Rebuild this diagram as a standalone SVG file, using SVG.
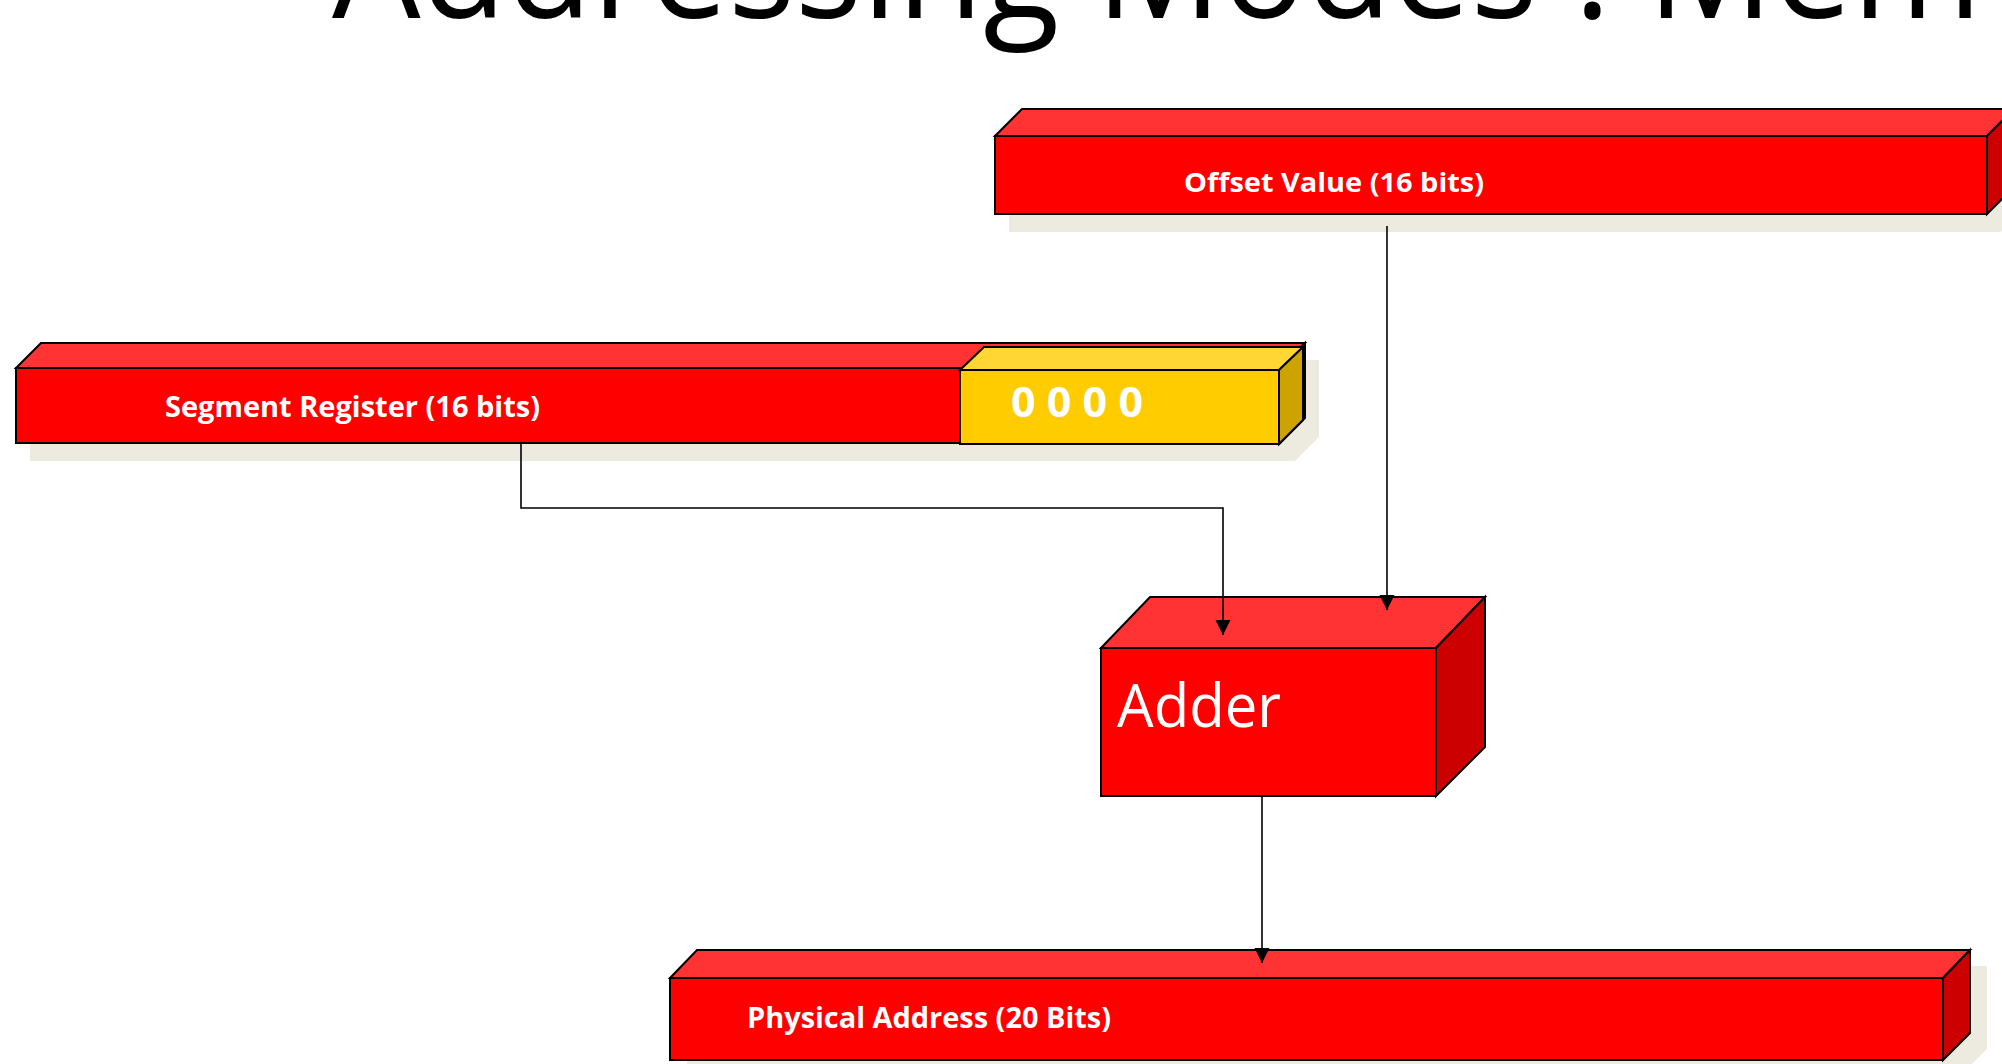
<svg xmlns="http://www.w3.org/2000/svg" width="2002" height="1064" viewBox="0 0 2002 1064">
<style>
.ln{stroke:#000;stroke-width:2;stroke-linejoin:miter}
.front{fill:#FF0000}
.top{fill:#FF3333}
.side{fill:#CC0000}
.yfront{fill:#FFCC00}
.ytop{fill:#FFD633}
.yside{fill:#CCA300}
.shadow{fill:#EDEBE0;stroke:none}
.lbl{font-family:"Open Sans","Liberation Sans",sans-serif;font-weight:bold;fill:#fff}
.conn{stroke:#000;stroke-width:1.6;fill:none}
</style>
<defs>
<marker id="arr" markerUnits="userSpaceOnUse" markerWidth="16" markerHeight="16" refX="15" refY="7.5" orient="auto">
<path d="M0,0 L15,7.5 L0,15 z" fill="#000"/>
</marker>
</defs>
<rect width="2002" height="1064" fill="#fff"/>
<text id="title" x="332" y="18" font-family="'Open Sans','Liberation Sans',sans-serif" font-size="145" fill="#000" textLength="1650" lengthAdjust="spacingAndGlyphs">Addressing Modes : Mem</text>

<g id="offset">
<polygon class="shadow" points="1009,154 1036,127 2028,127 2028,205 2001,232 1009,232"/>
<polygon class="top ln" points="995,136 1022,109 2014,109 1987,136"/>
<polygon class="side ln" points="1987,136 2014,109 2014,187 1987,214"/>
<rect class="front ln" x="995" y="136" width="992" height="78"/>
<text class="lbl" x="1184" y="192" font-size="27" textLength="300" lengthAdjust="spacingAndGlyphs">Offset Value (16 bits)</text>
</g>

<g id="segment">
<polygon class="shadow" points="30,385 55,360 1319,360 1319,437 1295,461 30,461"/>
<polygon class="top ln" points="16,368 41,343 1305,343 1280,368"/>
<polygon class="side ln" points="1280,368 1305,343 1305,418 1280,443"/>
<rect class="front ln" x="16" y="368" width="1264" height="75"/>
<text class="lbl" x="165" y="417" font-size="28" textLength="375" lengthAdjust="spacingAndGlyphs">Segment Register (16 bits)</text>
</g>

<g id="zeros">
<polygon class="ytop ln" points="960,370 984,347 1303,347 1279,370"/>
<polygon class="yside ln" points="1279,370 1303,347 1303,420 1279,444"/>
<rect class="yfront ln" x="960" y="370" width="319" height="74"/>
<text class="lbl" x="1011" y="417" font-size="41" textLength="132" lengthAdjust="spacingAndGlyphs">0 0 0 0</text>
</g>

<g id="adder">
<polygon class="top ln" points="1101,648 1150,597 1485,597 1436,648"/>
<polygon class="side ln" points="1436,648 1485,597 1485,747 1436,796"/>
<rect class="front ln" x="1101" y="648" width="335" height="148"/>
<text x="1117" y="727" font-family="'Open Sans','Liberation Sans',sans-serif" font-size="60" fill="#fff" textLength="164" lengthAdjust="spacingAndGlyphs">Adder</text>
</g>

<g id="physical">
<polygon class="shadow" points="687,994 714,966 1987,966 1987,1049 1960,1076 687,1076"/>
<polygon class="top ln" points="670,978 697,950 1970,950 1943,978"/>
<polygon class="side ln" points="1943,978 1970,950 1970,1033 1943,1060"/>
<rect class="front ln" x="670" y="978" width="1273" height="82"/>
<text class="lbl" x="747" y="1028" font-size="28" textLength="364" lengthAdjust="spacingAndGlyphs">Physical Address (20 Bits)</text>
</g>

<g id="connectors">
<path class="conn" d="M1387,226 V610" marker-end="url(#arr)"/>
<path class="conn" d="M521,443 V508 H1223 V635" marker-end="url(#arr)"/>
<path class="conn" d="M1262,796 V963" marker-end="url(#arr)"/>
</g>
</svg>
